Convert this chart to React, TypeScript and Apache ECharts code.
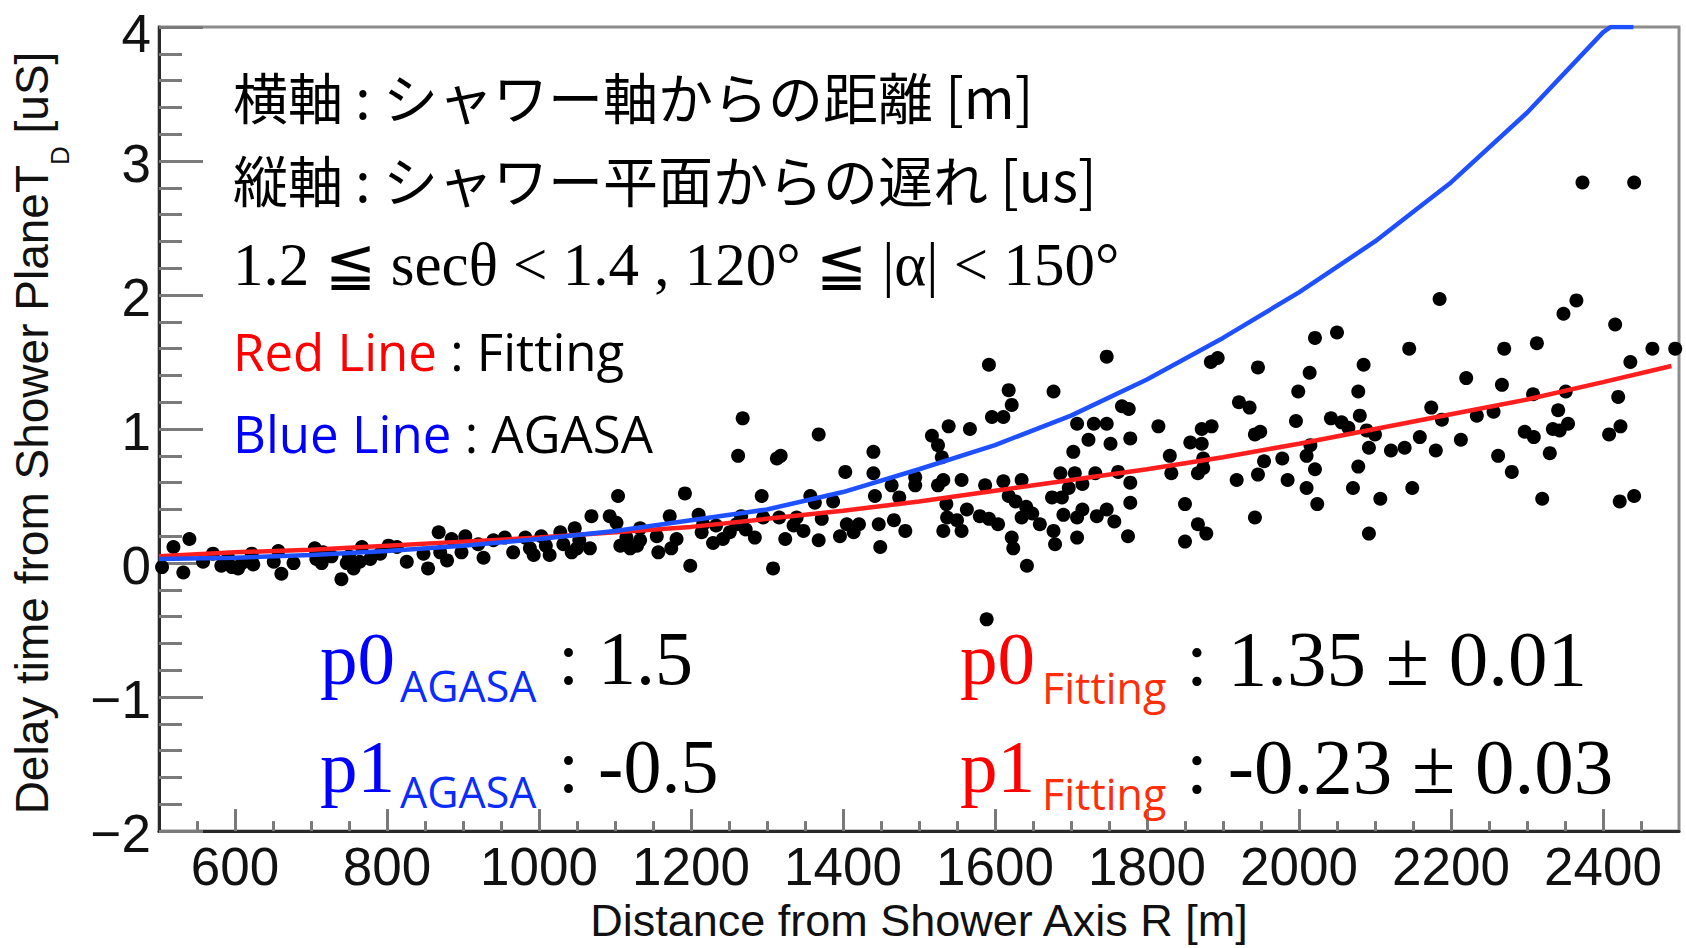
import React, { useEffect, useRef } from 'react';
import * as echarts from 'echarts';

// ---------- axis ticks ----------
const xMajorTicks = [600, 800, 1000, 1200, 1400, 1600, 1800, 2000, 2200, 2400];
const xMinorTicks = [550, 650, 700, 750, 850, 900, 950, 1050, 1100, 1150, 1250, 1300, 1350, 1450, 1500, 1550,
  1650, 1700, 1750, 1850, 1900, 1950, 2050, 2100, 2150, 2250, 2300, 2350, 2450];

// ---------- data: [distance R (m), delay time T_D (us)] ----------
const pointsR500to1000 = [
  [504, -0.03], [519, 0.12], [532, -0.07], [540, 0.18], [558, 0.01], [571, 0.07], [582, -0.02], [591, 0.04],
  [596, -0.03], [604, -0.04], [609, 0.0], [622, 0.07], [624, -0.01], [651, 0.01], [657, 0.09], [661, -0.08],
  [677, 0.0], [705, 0.11], [707, 0.03], [714, 0.0], [716, 0.08], [727, 0.05], [740, -0.12], [747, 0.0],
  [750, 0.05], [756, -0.04], [764, 0.01], [767, 0.12], [778, 0.03], [791, 0.07], [802, 0.13], [813, 0.12],
  [826, 0.01], [848, 0.07], [854, -0.04], [868, 0.23], [870, 0.08], [879, 0.02], [885, 0.18], [898, 0.08],
  [903, 0.2], [920, 0.14], [927, 0.04], [940, 0.17], [955, 0.19], [966, 0.08], [982, 0.19], [988, 0.11],
  [993, 0.06],
];
const pointsR1000to1500 = [
  [1003, 0.2], [1009, 0.13], [1014, 0.06], [1028, 0.23], [1032, 0.14], [1043, 0.08], [1047, 0.26], [1050, 0.11],
  [1053, 0.17], [1067, 0.11], [1069, 0.35], [1093, 0.35], [1102, 0.3], [1104, 0.5], [1107, 0.13], [1115, 0.19],
  [1120, 0.11], [1129, 0.13], [1133, 0.26], [1133, 0.17], [1155, 0.2], [1157, 0.08], [1172, 0.35], [1174, 0.11],
  [1181, 0.18], [1192, 0.52], [1199, -0.02], [1210, 0.36], [1214, 0.23], [1216, 0.29], [1229, 0.15], [1233, 0.28],
  [1242, 0.18], [1251, 0.23], [1260, 0.29], [1262, 0.8], [1266, 0.35], [1268, 1.08], [1272, 0.25], [1284, 0.19],
  [1293, 0.5], [1295, 0.34], [1308, -0.04], [1313, 0.78], [1316, 0.34], [1318, 0.8], [1324, 0.18], [1335, 0.28],
  [1339, 0.34], [1348, 0.24], [1357, 0.5], [1363, 0.45], [1368, 0.96], [1368, 0.17], [1372, 0.33], [1387, 0.46],
  [1396, 0.2], [1403, 0.68], [1405, 0.29], [1414, 0.23], [1421, 0.29], [1440, 0.83], [1440, 0.67], [1442, 0.5],
  [1447, 0.29], [1449, 0.12], [1464, 0.58], [1467, 0.32], [1474, 0.49], [1482, 0.24], [1495, 0.64], [1495, 0.58],
];
const pointsR1500to2000 = [
  [1517, 0.95], [1525, 0.88], [1525, 0.58], [1530, 0.79], [1532, 0.62], [1532, 0.24], [1536, 0.44], [1537, 0.34],
  [1539, 1.02], [1550, 0.32], [1556, 0.24], [1556, 0.62], [1563, 0.4], [1567, 1.0], [1580, 0.35], [1587, 0.58],
  [1589, -0.42], [1592, 0.33], [1592, 1.48], [1596, 1.09], [1604, 0.29], [1611, 1.09], [1611, 0.61], [1618, 1.29],
  [1618, 0.5], [1622, 1.18], [1622, 0.19], [1624, 0.11], [1627, 0.46], [1635, 0.62], [1635, 0.34], [1641, 0.42],
  [1642, -0.02], [1649, 0.37], [1659, 0.29], [1675, 0.49], [1677, 1.28], [1677, 0.24], [1679, 0.14], [1686, 0.67],
  [1688, 0.49], [1690, 0.36], [1697, 0.56], [1703, 0.83], [1705, 0.67], [1708, 1.04], [1708, 0.34], [1708, 0.19],
  [1715, 0.4], [1715, 0.59], [1723, 0.92], [1730, 1.04], [1732, 0.67], [1734, 0.35], [1747, 1.04], [1747, 1.54],
  [1747, 0.4], [1752, 0.89], [1757, 0.31], [1762, 0.68], [1767, 1.17], [1775, 0.2], [1776, 1.15], [1778, 0.93],
  [1778, 0.6], [1778, 0.45], [1815, 1.02], [1830, 0.8], [1832, 0.67], [1850, 0.44], [1850, 0.16], [1857, 0.9],
  [1867, 0.67], [1867, 0.29], [1872, 0.89], [1872, 1.0], [1874, 0.71], [1874, 0.78], [1878, 0.22], [1884, 1.5],
  [1893, 1.53], [1885, 1.02], [1918, 0.62], [1921, 1.2], [1935, 1.16], [1942, 0.34], [1942, 0.96], [1946, 1.46],
  [1946, 0.66], [1949, 0.98], [1954, 0.76], [1978, 0.78], [1985, 0.62], [1996, 1.06], [1999, 1.28],
];
const pointsR2000to2500 = [
  [2010, 0.8], [2010, 0.56], [2014, 1.42], [2015, 0.88], [2021, 1.68], [2021, 0.7], [2024, 0.44], [2042, 1.08],
  [2050, 1.72], [2056, 1.05], [2065, 1.01], [2071, 0.56], [2078, 1.28], [2078, 0.72], [2080, 1.1], [2085, 1.48],
  [2089, 0.99], [2092, 0.86], [2092, 0.22], [2100, 0.96], [2107, 0.48], [2121, 0.84], [2139, 0.86], [2145, 1.6],
  [2149, 0.56], [2159, 0.94], [2174, 1.16], [2180, 0.84], [2185, 1.97], [2188, 1.07], [2213, 0.92], [2220, 1.38],
  [2234, 1.1], [2256, 1.13], [2262, 0.8], [2267, 1.33], [2270, 1.6], [2280, 0.68], [2297, 0.98], [2308, 1.26],
  [2309, 0.94], [2313, 1.64], [2320, 0.48], [2330, 0.82], [2334, 1.0], [2341, 1.14], [2343, 0.99], [2348, 1.86],
  [2351, 1.28], [2354, 1.04], [2365, 1.96], [2373, 2.84], [2408, 0.96], [2416, 1.78], [2420, 1.24], [2422, 0.46],
  [2423, 1.02], [2436, 1.5], [2441, 0.5], [2441, 2.84], [2465, 1.6], [2495, 1.6],
];

// Red line: fitted curve, Blue line: AGASA curve
const fitLine = [
  [500, 0.05], [600, 0.08], [700, 0.1], [800, 0.13], [900, 0.16], [1000, 0.19], [1100, 0.23], [1200, 0.27],
  [1300, 0.33], [1400, 0.39], [1500, 0.46], [1600, 0.54], [1700, 0.62], [1800, 0.7], [1900, 0.79], [2000, 0.89],
  [2100, 1.0], [2200, 1.11], [2300, 1.22], [2400, 1.35], [2490, 1.47],
];
const agasaLine = [
  [500, 0.03], [600, 0.04], [700, 0.06], [800, 0.09], [900, 0.13], [1000, 0.18], [1100, 0.24], [1200, 0.32],
  [1300, 0.4], [1400, 0.53], [1500, 0.7], [1600, 0.88], [1700, 1.1], [1800, 1.37], [1900, 1.68], [2000, 2.02],
  [2100, 2.4], [2200, 2.84], [2300, 3.36], [2400, 3.96], [2410, 4.0], [2440, 4.0],
];

// ---------- texts ----------
const xAxisTitle = 'Distance from Shower Axis R [m]';
const yAxisTitleMain = 'Delay time from Shower PlaneT';
const yAxisTitleSub = 'D';
const yAxisTitleUnit = ' [uS]';
const noteLines = [
  '横軸 : シャワー軸からの距離 [m]',
  '縦軸 : シャワー平面からの遅れ [us]',
];
const cutLine = '1.2 ≦ secθ < 1.4 , 120° ≦ |α| < 150°';
const legendRed = ['Red Line', ' : Fitting'];
const legendBlue = ['Blue Line', ' : AGASA'];
const paramNames = ['p0', 'p1'];
const agasaValues = [': 1.5', ': -0.5'];
const fitValues = [': 1.35 ± 0.01', ': -0.23 ± 0.03'];

const SERIF = "'Liberation Serif', 'DejaVu Serif', serif";
const SANS = "'Open Sans', 'Noto Sans', sans-serif";
const HELV = "'Liberation Sans', Arial, sans-serif";
const CJK = "'Noto Sans CJK JP', sans-serif";

function buildOption() {
  const rowY = [658, 766];
  const subY = [685, 791];
  const graphic: any[] = [];

  // y axis title (rotated, with subscript)
  graphic.push({
    type: 'text', x: 41, y: 433, rotation: Math.PI / 2, z: 10,
    style: {
      text: `{m|${yAxisTitleMain}}{s|${yAxisTitleSub}}{m|${yAxisTitleUnit}}`,
      align: 'center', verticalAlign: 'middle',
      rich: {
        m: { fontSize: 46, fontFamily: HELV, fill: '#111', padding: [0, 0, 18, 0], verticalAlign: 'bottom' },
        s: { fontSize: 26, fontFamily: HELV, fill: '#111', verticalAlign: 'bottom' },
      },
    },
  });

  noteLines.forEach((t, i) => {
    graphic.push({
      type: 'text', x: 233, y: [95, 178][i], z: 10,
      style: { text: t, fontSize: 55, fontFamily: CJK, fill: '#000', align: 'left', verticalAlign: 'middle' },
    });
  });
  graphic.push({
    type: 'text', x: 233, y: 264, z: 10,
    style: { text: cutLine, fontSize: 61, fontFamily: SERIF, fill: '#000', align: 'left', verticalAlign: 'middle' },
  });
  graphic.push({
    type: 'text', x: 233, y: 351, z: 10,
    style: {
      text: `{c|${legendRed[0]}}{k|${legendRed[1]}}`, align: 'left', verticalAlign: 'middle',
      rich: {
        c: { fontSize: 51, fontFamily: SANS, fill: '#ff0000' },
        k: { fontSize: 51, fontFamily: SANS, fill: '#000' },
      },
    },
  });
  graphic.push({
    type: 'text', x: 233, y: 433, z: 10,
    style: {
      text: `{c|${legendBlue[0]}}{k|${legendBlue[1]}}`, align: 'left', verticalAlign: 'middle',
      rich: {
        c: { fontSize: 51, fontFamily: SANS, fill: '#0000ff' },
        k: { fontSize: 51, fontFamily: SANS, fill: '#000' },
      },
    },
  });

  paramNames.forEach((p, i) => {
    // AGASA column
    graphic.push({ type: 'text', x: 320, y: rowY[i], z: 10,
      style: { text: p, fontSize: 75, fontFamily: SERIF, fill: '#0000ff', align: 'left', verticalAlign: 'middle' } });
    graphic.push({ type: 'text', x: 400, y: subY[i], z: 10,
      style: { text: 'AGASA', fontSize: 43, fontFamily: SANS, fill: '#0a2cff', align: 'left', verticalAlign: 'middle' } });
    graphic.push({ type: 'text', x: 558, y: rowY[i], z: 10,
      style: { text: agasaValues[i], fontSize: 76, fontFamily: SERIF, fill: '#000', align: 'left', verticalAlign: 'middle' } });
    // Fitting column
    graphic.push({ type: 'text', x: 960, y: rowY[i], z: 10,
      style: { text: p, fontSize: 75, fontFamily: SERIF, fill: '#ff0000', align: 'left', verticalAlign: 'middle' } });
    graphic.push({ type: 'text', x: 1042, y: subY[i] + 2, z: 10,
      style: { text: 'Fitting', fontSize: 43, fontFamily: SANS, fill: '#ff2e0a', align: 'left', verticalAlign: 'middle' } });
    graphic.push({ type: 'text', x: 1186, y: rowY[i], z: 10,
      style: { text: fitValues[i], fontSize: 79, fontFamily: SERIF, fill: '#000', align: 'left', verticalAlign: 'middle' } });
  });

  const tickStyle = { color: '#7a7a7a', width: 3 };
  const labelStyle = { fontSize: 53, fontFamily: HELV, color: '#111' };

  return {
    animation: false,
    backgroundColor: '#ffffff',
    grid: { left: 159, right: 7, top: 27, bottom: 105, show: true, borderColor: '#8c8c8c', borderWidth: 3, backgroundColor: 'transparent' },
    xAxis: [
      {
        type: 'value', min: 500, max: 2500, position: 'bottom',
        axisLine: { show: true, onZero: false, lineStyle: { color: '#2a2a2a', width: 3 } },
        axisTick: { show: true, inside: true, length: 22, customValues: xMajorTicks, lineStyle: tickStyle },
        axisLabel: { show: true, customValues: xMajorTicks, margin: 9, formatter: (v: number) => String(v), ...labelStyle },
        splitLine: { show: false },
        name: xAxisTitle, nameLocation: 'middle', nameGap: 57,
        nameTextStyle: { fontSize: 45, fontFamily: HELV, color: '#111' },
      },
      {
        type: 'value', min: 500, max: 2500, position: 'bottom',
        axisLine: { show: false, onZero: false },
        axisTick: { show: true, inside: true, length: 10, customValues: xMinorTicks, lineStyle: tickStyle },
        axisLabel: { show: false },
        splitLine: { show: false },
      },
    ],
    yAxis: {
      type: 'value', min: -2, max: 4, interval: 1,
      axisLine: { show: true, onZero: false, lineStyle: { color: '#2a2a2a', width: 3 } },
      axisTick: { show: true, inside: true, length: 44, lineStyle: tickStyle },
      minorTick: { show: true, splitNumber: 5, length: 23, lineStyle: tickStyle },
      axisLabel: {
        show: true, margin: 8,
        formatter: (v: number) => {
          const t = String(v).replace('-', '\u2212');
          return v === 4 ? `{top|${t}}` : `{n|${t}}`;
        },
        rich: {
          n: { ...labelStyle, padding: [4, 0, 0, 0] },
          top: { ...labelStyle, padding: [13, 0, 0, 0] },
        },
        ...labelStyle,
      },
      splitLine: { show: false },
      minorSplitLine: { show: false },
    },
    graphic,
    series: [
      {
        type: 'scatter', xAxisIndex: 0, symbol: 'circle', symbolSize: 14, z: 2,
        itemStyle: { color: '#000000', opacity: 1 },
        data: [...pointsR500to1000, ...pointsR1000to1500, ...pointsR1500to2000, ...pointsR2000to2500],
      },
      {
        type: 'line', xAxisIndex: 0, data: fitLine, showSymbol: false, symbol: 'none', z: 3, clip: true,
        lineStyle: { color: '#ff1e1e', width: 4.5 },
      },
      {
        type: 'line', xAxisIndex: 0, data: agasaLine, showSymbol: false, symbol: 'none', z: 4, clip: true,
        lineStyle: { color: '#1f50ff', width: 4.5 },
      },
    ],
  };
}

export default function App() {
  const ref = useRef<HTMLDivElement>(null);
  useEffect(() => {
    if (!ref.current) return;
    const chart = echarts.init(ref.current, null, { renderer: 'svg' });
    chart.setOption(buildOption() as any);
    return () => chart.dispose();
  }, []);
  return (
    <div
      ref={ref}
      style={{ position: 'fixed', left: 0, top: 0, width: 1686, height: 948, background: '#ffffff' }}
    />
  );
}
